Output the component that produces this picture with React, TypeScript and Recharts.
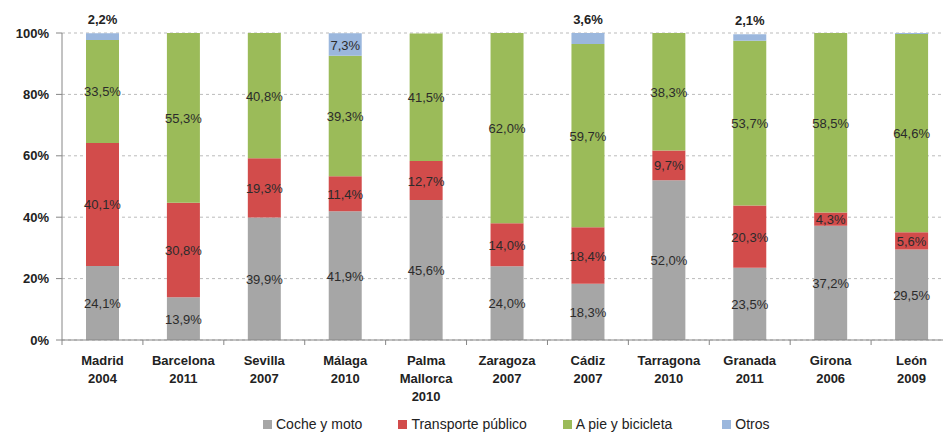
import React from "react";
import { BarChart, Bar, XAxis, YAxis, CartesianGrid, Legend, LabelList } from "recharts";

const categories = [
  "Madrid\n2004",
  "Barcelona\n2011",
  "Sevilla\n2007",
  "Málaga\n2010",
  "Palma\nMallorca\n2010",
  "Zaragoza\n2007",
  "Cádiz\n2007",
  "Tarragona\n2010",
  "Granada\n2011",
  "Girona\n2006",
  "León\n2009",
];
const coche = [24.1, 13.9, 39.9, 41.9, 45.6, 24.0, 18.3, 52.0, 23.5, 37.2, 29.5];
const transporte = [40.1, 30.8, 19.3, 11.4, 12.7, 14.0, 18.4, 9.7, 20.3, 4.3, 5.6];
const pie = [33.5, 55.3, 40.8, 39.3, 41.5, 62.0, 59.7, 38.3, 53.7, 58.5, 64.6];
const otros = [2.2, 0, 0, 7.3, 0, 0, 3.6, 0, 2.1, 0, 0.3];
const yTicks = [0, 20, 40, 60, 80, 100];

const seriesNames = ["Coche y moto", "Transporte público", "A pie y bicicleta", "Otros"];
const colors = ["#A6A6A6", "#D24C4B", "#9BBB59", "#9BB7DD"];

const data = categories.map((c, i) => ({
  name: c,
  coche: coche[i],
  transporte: transporte[i],
  pie: pie[i],
  otros: otros[i],
}));

const W = 960;
const H = 434;
const M_LEFT = 0;
const M_RIGHT = 8;
const Y_W = 62;
const SLOT = (W - M_LEFT - M_RIGHT - Y_W) / categories.length;
const FONT = "'Liberation Sans', Arial, sans-serif";

const fmt = (v: number) => v.toFixed(1).replace(".", ",") + "%";

const makeLabel = (isOtros: boolean) => (props: any) => {
  const { x, y, width, height } = props;
  let v: any = props.value;
  if (Array.isArray(v)) v = v[1] - v[0];
  v = Number(v);
  if (!v || v < 1) return null;
  const cx = Number(x) + Number(width) / 2;
  if (isOtros && v < 5) {
    return (
      <text x={cx} y={Number(y) - 9} textAnchor="middle" fontSize={13} fontWeight="bold" fill="#222" fontFamily={FONT}>
        {fmt(v)}
      </text>
    );
  }
  return (
    <text x={cx} y={Number(y) + Number(height) / 2} dy={5} textAnchor="middle" fontSize={13} fill="#2b2b2b" fontFamily={FONT}>
      {fmt(v)}
    </text>
  );
};

const XTick = (props: any) => {
  const { x, y, payload } = props;
  const lines = String(payload.value).split("\n");
  const axisY = y - 8;
  return (
    <g>
      <line x1={x - SLOT / 2} x2={x - SLOT / 2} y1={axisY} y2={axisY + 5} stroke="#868686" />
      {lines.map((l, i) => (
        <text key={i} x={x} y={axisY + 25 + i * 18} textAnchor="middle" fontSize={13} fontWeight="bold" fill="#222" fontFamily={FONT}>
          {l}
        </text>
      ))}
    </g>
  );
};

const LegendContent = () => (
  <div style={{ display: "flex", paddingLeft: 263, paddingTop: 12, fontFamily: FONT, fontSize: 14, color: "#222" }}>
    {seriesNames.map((n, i) => (
      <div key={n} style={{ display: "flex", alignItems: "center", marginRight: i === 2 ? 50 : 36 }}>
        <span style={{ width: 9, height: 9, background: colors[i], marginRight: 4, display: "inline-block" }} />
        <span>{n}</span>
      </div>
    ))}
  </div>
);

export default function App() {
  return (
    <div style={{ position: "fixed", left: 0, top: 0, width: 943, height: 434, overflow: "hidden", background: "#fff" }}>
      <BarChart
        width={W}
        height={H}
        data={data}
        margin={{ top: 33, right: M_RIGHT, left: M_LEFT, bottom: 0 }}
        barSize={33}
      >
        <CartesianGrid vertical={false} stroke="#BBBBBB" strokeDasharray="3 3" />
        <XAxis
          dataKey="name"
          interval={0}
          height={64}
          tickLine={false}
          axisLine={{ stroke: "#868686" }}
          tick={<XTick />}
        />
        <YAxis
          width={Y_W}
          domain={[0, 100]}
          ticks={yTicks}
          allowDataOverflow
          tickFormatter={(v: number) => v + "%"}
          tick={{ fontSize: 13, fontWeight: "bold", fill: "#222", fontFamily: FONT }}
          tickSize={6}
          tickMargin={7}
          axisLine={{ stroke: "#868686" }}
          tickLine={{ stroke: "#868686" }}
        />
        <Legend verticalAlign="bottom" height={30} content={<LegendContent />} />
        <Bar dataKey="coche" stackId="a" fill={colors[0]} isAnimationActive={false}>
          <LabelList dataKey="coche" content={makeLabel(false)} />
        </Bar>
        <Bar dataKey="transporte" stackId="a" fill={colors[1]} isAnimationActive={false}>
          <LabelList dataKey="transporte" content={makeLabel(false)} />
        </Bar>
        <Bar dataKey="pie" stackId="a" fill={colors[2]} isAnimationActive={false}>
          <LabelList dataKey="pie" content={makeLabel(false)} />
        </Bar>
        <Bar dataKey="otros" stackId="a" fill={colors[3]} isAnimationActive={false}>
          <LabelList dataKey="otros" content={makeLabel(true)} />
        </Bar>
      </BarChart>
    </div>
  );
}
